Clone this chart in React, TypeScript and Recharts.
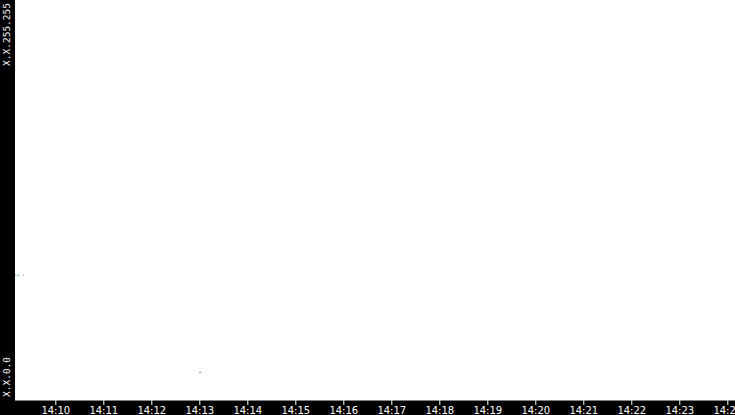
import React from "react";
import { ScatterChart, Scatter, XAxis, YAxis, CartesianGrid } from "recharts";

// x: seconds after 14:00:00, y: low 16 bits of the address (0 = X.X.0.0, 65535 = X.X.255.255)
const greenSeconds = [552.8, 780.3];
const greenAddresses = [20450, 4520];
const greySeconds = [549.6, 559.6];
const greyAddresses = [20450, 20450];

const timeTicks = [600, 660, 720, 780, 840, 900, 960, 1020, 1080, 1140, 1200, 1260, 1320, 1380, 1440];
const addressTicks = [0, 65535];
const addressLabels: Record<number, string> = { 0: "X.X.0.0", 65535: "X.X.255.255" };

const greenPoints = greenSeconds.map((s, i) => ({ t: s, a: greenAddresses[i] }));
const greyPoints = greySeconds.map((s, i) => ({ t: s, a: greyAddresses[i] }));

const fmtTime = (s: number) => {
  const m = Math.floor(s / 60);
  return `14:${String(m).padStart(2, "0")}`;
};

function AddressTick(props: any) {
  const { y, payload } = props;
  const top = payload.value === 65535;
  return (
    <g transform={`translate(10, ${y}) rotate(-90)`}>
      <text
        x={top ? -3 : 3}
        y={0}
        textAnchor={top ? "end" : "start"}
        fill="#fff"
        fontSize={9.5}
        fontFamily="DejaVu Sans Mono"
      >
        {addressLabels[payload.value]}
      </text>
    </g>
  );
}

const dot = (w: number, color: string) => (p: any) =>
  <rect x={p.cx - w / 2} y={p.cy - 0.5} width={w} height={1} fill={color} />;

export default function App() {
  return (
    <div style={{ width: 735, height: 415, background: "#000" }}>
      <style>{`body{margin:0}`}</style>
      <ScatterChart width={735} height={415} margin={{ top: 0, right: 0, left: 0, bottom: 0 }}>
        <CartesianGrid fill="#fff" horizontal={false} vertical={false} />
        <XAxis
          type="number"
          dataKey="t"
          domain={[549, 1449]}
          ticks={timeTicks}
          interval={0}
          allowDataOverflow
          tickFormatter={fmtTime}
          height={15}
          stroke="#fff"
          tickSize={5}
          tickMargin={2}
          tick={{ fill: "#fff", fontSize: 10, fontFamily: "DejaVu Sans" }}
        />
        <YAxis
          type="number"
          dataKey="a"
          domain={[0, 65535]}
          ticks={addressTicks}
          interval={0}
          width={15}
          axisLine={false}
          tickLine={false}
          tick={<AddressTick />}
        />
        <Scatter data={greyPoints} shape={dot(1, "#9a9a9a")} isAnimationActive={false} />
        <Scatter data={greenPoints} shape={dot(2, "#44b860")} isAnimationActive={false} />
      </ScatterChart>
    </div>
  );
}
